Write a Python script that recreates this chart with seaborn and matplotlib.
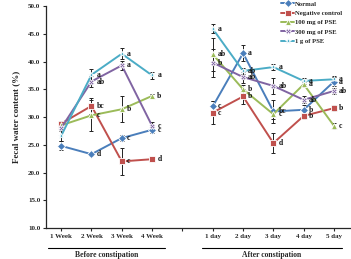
import matplotlib
matplotlib.use("Agg")
import matplotlib.pyplot as plt
import seaborn as sns
import pandas as pd
import numpy as np
from matplotlib.lines import Line2D

groups = ["Normal", "Negative control", "100 mg of PSE", "300 mg of PSE", "1 g of PSE"]
colors = ["#4A7EBB", "#C0504D", "#9BBB59", "#8064A2", "#4BACC6"]
markers = ["D", "s", "^", "X", "*"]

week_labels = ["1 Week", "2 Week", "3 Week", "4 Week"]
day_labels = ["1 day", "2 day", "3 day", "4 day", "5 day"]

# Before constipation (weeks)
week_vals = {
    "Normal":           [24.8, 23.3, 26.2, 27.7],
    "Negative control": [28.8, 32.0, 22.0, 22.4],
    "100 mg of PSE":    [28.5, 30.3, 31.4, 33.8],
    "300 mg of PSE":    [28.0, 36.4, 39.3, 28.4],
    "1 g of PSE":       [26.6, 37.6, 41.4, 37.5],
}
week_err = {
    "Normal":           [0.8, 0.3, 0.5, 0.6],
    "Negative control": [0.5, 1.5, 2.5, 0.3],
    "100 mg of PSE":    [0.5, 2.8, 2.3, 0.3],
    "300 mg of PSE":    [0.5, 1.0, 0.8, 0.7],
    "1 g of PSE":       [1.0, 1.0, 1.0, 0.7],
}
week_let = {
    "Normal":           ["", "d", "c", "c"],
    "Negative control": ["", "bc", "c", "d"],
    "100 mg of PSE":    ["", "c", "b", "b"],
    "300 mg of PSE":    ["", "ab", "a", "c"],
    "1 g of PSE":       ["", "a", "a", "a"],
}

# After constipation (days)
day_vals = {
    "Normal":           [31.9, 41.5, 31.0, 31.3, 36.4],
    "Negative control": [30.8, 33.7, 25.3, 30.2, 31.6],
    "100 mg of PSE":    [41.3, 35.0, 30.5, 35.9, 28.4],
    "300 mg of PSE":    [39.8, 37.2, 35.6, 33.1, 34.7],
    "1 g of PSE":       [45.9, 38.3, 39.0, 36.5, 36.8],
}
day_err = {
    "Normal":           [1.0, 1.4, 2.0, 0.8, 0.8],
    "Negative control": [2.0, 1.3, 1.8, 0.5, 0.5],
    "100 mg of PSE":    [3.0, 0.8, 0.8, 0.5, 0.5],
    "300 mg of PSE":    [2.5, 1.0, 1.5, 0.6, 0.5],
    "1 g of PSE":       [0.8, 0.5, 0.6, 0.6, 0.6],
}
day_let = {
    "Normal":           ["c", "a", "bc", "b", "a"],
    "Negative control": ["c", "b", "d", "b", "b"],
    "100 mg of PSE":    ["ab", "b", "c", "a", "c"],
    "300 mg of PSE":    ["b", "ab", "ab", "ab", "ab"],
    "1 g of PSE":       ["a", "ab", "a", "a", "a"],
}

week_x = [0, 1, 2, 3]
day_x = [5, 6, 7, 8, 9]

rows = []
for g in groups:
    for x, v, e, l in zip(week_x, week_vals[g], week_err[g], week_let[g]):
        rows.append(dict(group=g, x=x, y=v, err=e, let=l, seg="before"))
    for x, v, e, l in zip(day_x, day_vals[g], day_err[g], day_let[g]):
        rows.append(dict(group=g, x=x, y=v, err=e, let=l, seg="after"))
df = pd.DataFrame(rows)

sns.set_style("ticks")
plt.rcParams["font.family"] = ["Liberation Serif", "DejaVu Serif"]
plt.rcParams["font.weight"] = "bold"

fig = plt.figure(figsize=(3.51, 2.59), dpi=100)
ax = fig.add_axes([0.131, 0.1197, 0.869, 0.857])

pal = dict(zip(groups, colors))
mk = dict(zip(groups, markers))

for seg in ["before", "after"]:
    d = df[df.seg == seg]
    for g in groups:
        dg = d[d.group == g]
        ax.errorbar(dg.x, dg.y, yerr=dg.err, fmt="none", ecolor="#222222",
                    elinewidth=0.7, capsize=1.5, capthick=0.7, zorder=2)
    sns.lineplot(data=d, x="x", y="y", hue="group", style="group",
                 hue_order=groups, style_order=groups, palette=pal,
                 markers=mk, dashes=False, linewidth=1.4, markersize=4,
                 markeredgewidth=0.6, ax=ax, legend=(seg == "before"),
                 zorder=3)

for _, r in df.iterrows():
    if r["let"]:
        ax.text(r.x + 0.17, r.y, r["let"], fontsize=5.5, fontweight="bold",
                va="center", ha="left", color="#111111")

ax.set_xlim(-0.5, 9.56)
ax.set_ylim(10, 50)
ax.set_yticks(np.arange(10, 50.1, 5))
ax.set_yticklabels([f"{v:.1f}" for v in np.arange(10, 50.1, 5)])
ax.set_xticks(range(10))
ax.set_xticklabels(week_labels + [""] + day_labels)
ax.tick_params(labelsize=5, length=2, width=0.8, pad=2)
for lab in ax.get_xticklabels() + ax.get_yticklabels():
    lab.set_fontweight("bold")
ax.set_xlabel("")
ax.set_ylabel("Fecal water content (%)", fontsize=6.5, fontweight="bold", labelpad=6)
sns.despine(ax=ax, top=True, right=True)
for s in ["left", "bottom"]:
    ax.spines[s].set_linewidth(0.9)

W, H = 351, 259
leg = ax.legend(loc="upper left", bbox_to_anchor=(281 / W, 1 - 1 / H),
                bbox_transform=fig.transFigure, frameon=False,
                fontsize=4.8, handlelength=2.0, handletextpad=0.15, labelspacing=0.55,
                borderaxespad=0, borderpad=0)
for t in leg.get_texts():
    t.set_fontweight("bold")

# group labels with underline
fig.add_artist(Line2D([48 / W, 165 / W], [1 - 248 / H, 1 - 248 / H], color="black", lw=0.8))
fig.add_artist(Line2D([202 / W, 342 / W], [1 - 248 / H, 1 - 248 / H], color="black", lw=0.8))
fig.text(107 / W, 1 - 255 / H, "Before constipation", fontsize=5.5, fontweight="bold",
         ha="center", va="center")
fig.text(272 / W, 1 - 255 / H, "After constipation", fontsize=5.5, fontweight="bold",
         ha="center", va="center")

fig.savefig("out.png", dpi=100)
